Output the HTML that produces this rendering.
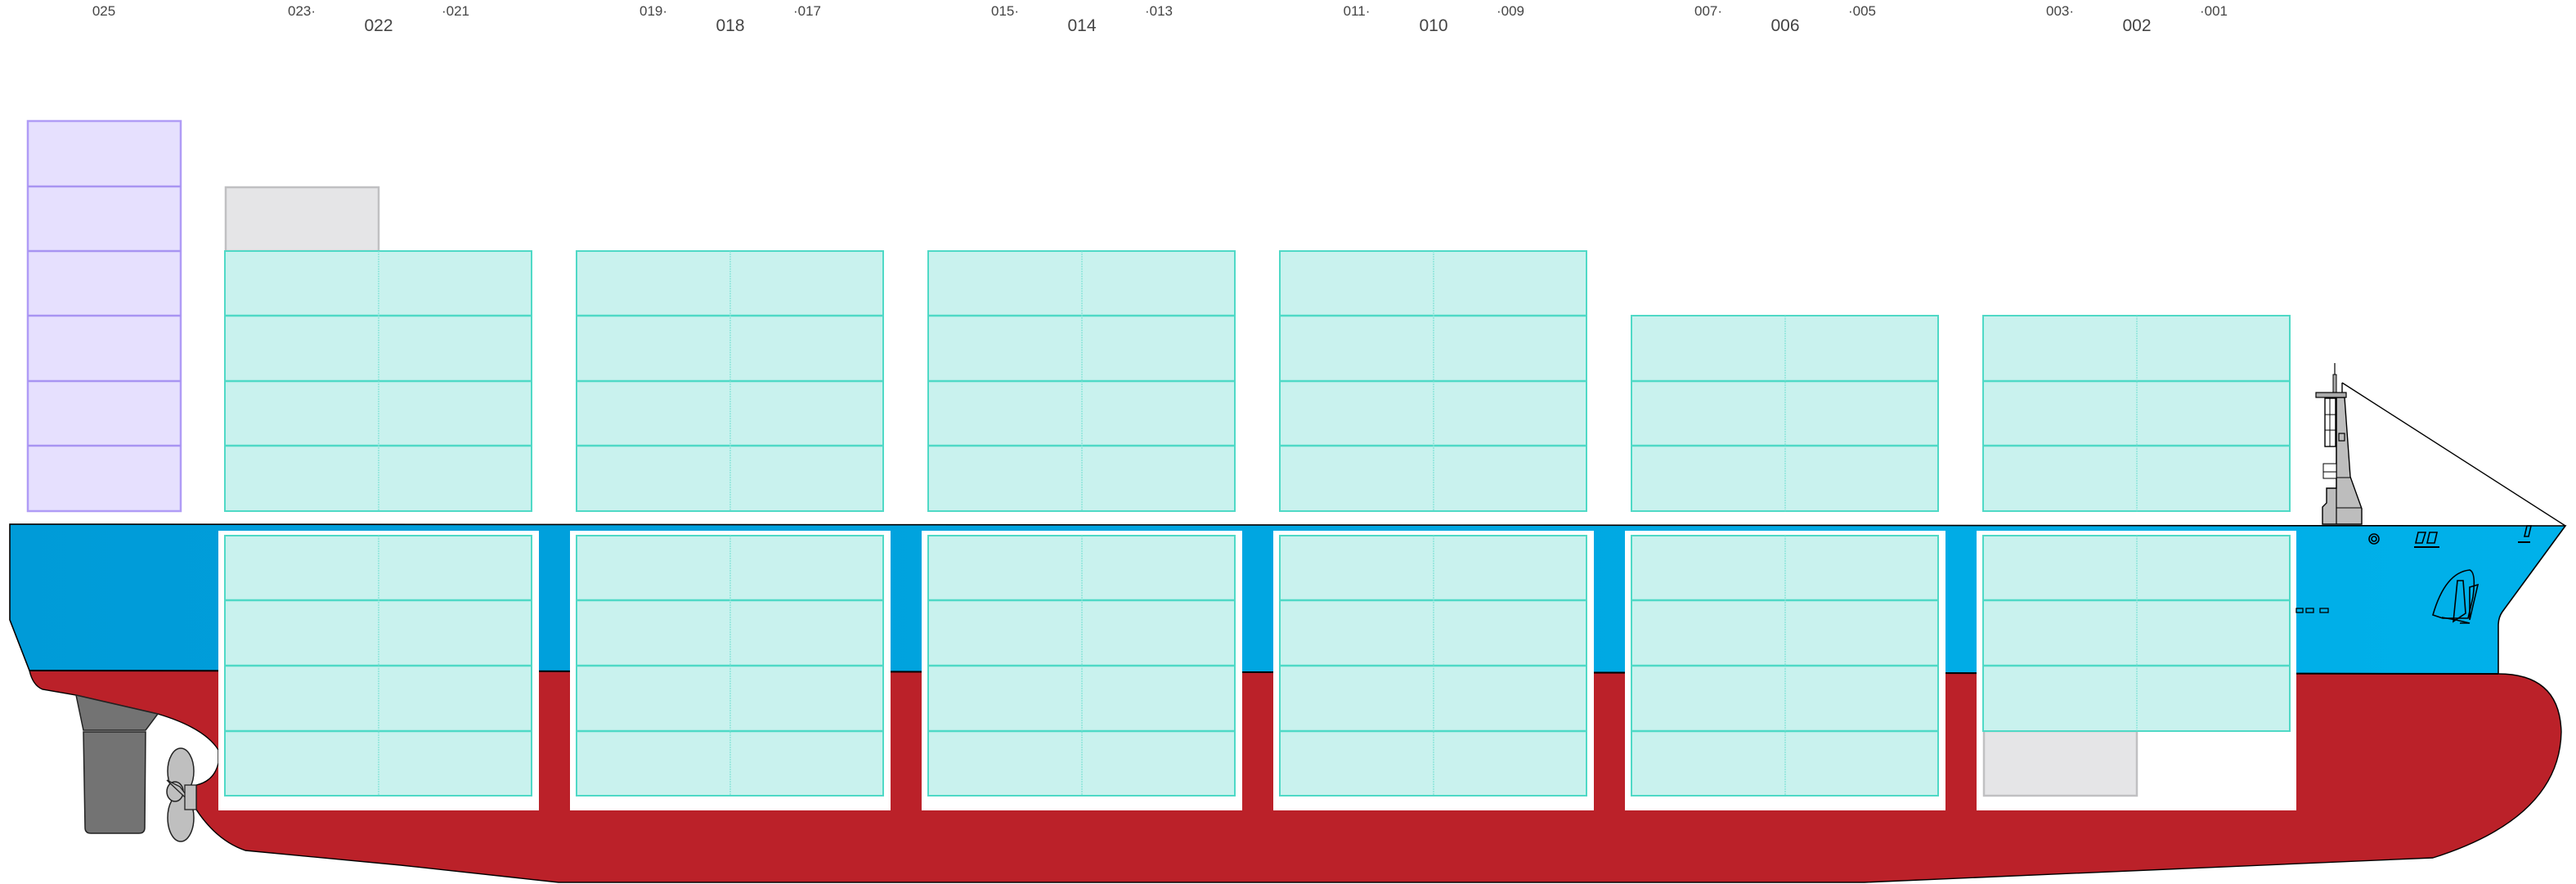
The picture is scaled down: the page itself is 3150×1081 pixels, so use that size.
<!DOCTYPE html>
<html><head><meta charset="utf-8"><style>
html,body{margin:0;padding:0;background:#fff;}
svg{display:block;}
text{font-family:"Liberation Sans",sans-serif;fill:#444;}
.c{fill:#c9f2ee;stroke:#4fd9c6;stroke-width:2;}
.l{stroke:#4fd9c6;stroke-width:2.5;}
.v{stroke:#7fe3d5;stroke-width:1.2;stroke-dasharray:2 1;}
.p{fill:#e6e0fe;stroke:#b09cf6;stroke-width:2.5;}
.pl{stroke:#a894f2;stroke-width:2.5;}
.g{fill:#e5e5e7;stroke:#c0c0c2;stroke-width:2.5;}
.k{fill:none;stroke:#000;stroke-width:1.6;}
</style></head><body>
<svg width="3150" height="1081" viewBox="0 0 3150 1081" xmlns="http://www.w3.org/2000/svg">
<defs>
<linearGradient id="bl" x1="0" x2="1" y1="0" y2="0">
<stop offset="0" stop-color="#009bd8"/><stop offset="1" stop-color="#00b1ea"/>
</linearGradient>
</defs>
<g font-size="17" text-anchor="middle">
<text x="127" y="19">025</text>
<text x="369" y="19">023·</text><text x="557" y="19">·021</text>
<text x="799" y="19">019·</text><text x="987" y="19">·017</text>
<text x="1229" y="19">015·</text><text x="1417" y="19">·013</text>
<text x="1659" y="19">011·</text><text x="1847" y="19">·009</text>
<text x="2089" y="19">007·</text><text x="2277" y="19">·005</text>
<text x="2519" y="19">003·</text><text x="2707" y="19">·001</text>
</g>
<g font-size="21" text-anchor="middle">
<text x="463" y="38">022</text><text x="893" y="38">018</text><text x="1323" y="38">014</text>
<text x="1753" y="38">010</text><text x="2183" y="38">006</text><text x="2613" y="38">002</text>
</g>

<path d="M12,641 L3137,643 L3060,748 Q3055,755 3055,765 L3055,824 L36,820 L12,758 Z" fill="url(#bl)" stroke="#000" stroke-width="1.6"/>
<path d="M36,820 L3055,824 Q3130,824 3132,895 Q3130,1000 2975,1049 L2280,1079 L683,1079 L490,1058 L300,1040 Q265,1028 240,990 L240,960 Q262,955 267,933 L267,917 Q250,890 193,873 L93,850 L52,843 Q40,838 36,820 Z" fill="#bb2129" stroke="#000" stroke-width="1.4"/>
<line x1="36" y1="820" x2="3055" y2="824" stroke="#000" stroke-width="2"/>

<path d="M93,850 L193,873 L178,893 L102,893 Z" fill="#737373" stroke="#222" stroke-width="1.5"/>
<path d="M102,895 L178,895 L177,1012 Q177,1019 170,1019 L111,1019 Q104,1019 104,1012 Z" fill="#737373" stroke="#222" stroke-width="1.5"/>
<ellipse cx="221" cy="943" rx="16" ry="28" fill="#bfbfbf" stroke="#222" stroke-width="1.5"/>
<ellipse cx="221" cy="1000" rx="16" ry="29" fill="#bfbfbf" stroke="#222" stroke-width="1.5"/>
<ellipse cx="214" cy="968" rx="10" ry="12" fill="#bfbfbf" stroke="#222" stroke-width="1.5"/>
<path d="M204,954 L220,962 L238,986 Z" fill="#bfbfbf" stroke="#222" stroke-width="1.3"/>
<rect x="226" y="960" width="14" height="30" fill="#bfbfbf" stroke="#222" stroke-width="1.3"/>

<g fill="#fff">
<rect x="267" y="649" width="392" height="342"/>
<rect x="697" y="649" width="392" height="342"/>
<rect x="1127" y="649" width="392" height="342"/>
<rect x="1557" y="649" width="392" height="342"/>
<rect x="1987" y="649" width="392" height="342"/>
<rect x="2417" y="649" width="391" height="342"/>
</g>

<rect class="p" x="34" y="148" width="187" height="477"/>
<g class="pl"><line x1="34" y1="228" x2="221" y2="228"/><line x1="34" y1="307" x2="221" y2="307"/><line x1="34" y1="386" x2="221" y2="386"/><line x1="34" y1="466" x2="221" y2="466"/><line x1="34" y1="545" x2="221" y2="545"/></g>

<rect class="g" x="276" y="229" width="187" height="78"/>
<rect class="g" x="2426" y="894" width="187" height="79"/>

<g>
<rect class="c" x="275" y="307" width="375" height="318"/>
<rect class="c" x="705" y="307" width="375" height="318"/>
<rect class="c" x="1135" y="307" width="375" height="318"/>
<rect class="c" x="1565" y="307" width="375" height="318"/>
<rect class="c" x="1995" y="386" width="375" height="239"/>
<rect class="c" x="2425" y="386" width="375" height="239"/>
</g>
<g class="l">
<line x1="275" y1="386" x2="650" y2="386"/><line x1="705" y1="386" x2="1080" y2="386"/><line x1="1135" y1="386" x2="1510" y2="386"/><line x1="1565" y1="386" x2="1940" y2="386"/>
<line x1="275" y1="466" x2="650" y2="466"/><line x1="705" y1="466" x2="1080" y2="466"/><line x1="1135" y1="466" x2="1510" y2="466"/><line x1="1565" y1="466" x2="1940" y2="466"/><line x1="1995" y1="466" x2="2370" y2="466"/><line x1="2425" y1="466" x2="2800" y2="466"/>
<line x1="275" y1="545" x2="650" y2="545"/><line x1="705" y1="545" x2="1080" y2="545"/><line x1="1135" y1="545" x2="1510" y2="545"/><line x1="1565" y1="545" x2="1940" y2="545"/><line x1="1995" y1="545" x2="2370" y2="545"/><line x1="2425" y1="545" x2="2800" y2="545"/>
</g>
<g class="v">
<line x1="463" y1="307" x2="463" y2="625"/><line x1="893" y1="307" x2="893" y2="625"/><line x1="1323" y1="307" x2="1323" y2="625"/><line x1="1753" y1="307" x2="1753" y2="625"/><line x1="2183" y1="386" x2="2183" y2="625"/><line x1="2613" y1="386" x2="2613" y2="625"/>
</g>

<g>
<rect class="c" x="275" y="655" width="375" height="318"/>
<rect class="c" x="705" y="655" width="375" height="318"/>
<rect class="c" x="1135" y="655" width="375" height="318"/>
<rect class="c" x="1565" y="655" width="375" height="318"/>
<rect class="c" x="1995" y="655" width="375" height="318"/>
<rect class="c" x="2425" y="655" width="375" height="239"/>
</g>
<g class="l">
<line x1="275" y1="734" x2="650" y2="734"/><line x1="705" y1="734" x2="1080" y2="734"/><line x1="1135" y1="734" x2="1510" y2="734"/><line x1="1565" y1="734" x2="1940" y2="734"/><line x1="1995" y1="734" x2="2370" y2="734"/><line x1="2425" y1="734" x2="2800" y2="734"/>
<line x1="275" y1="814" x2="650" y2="814"/><line x1="705" y1="814" x2="1080" y2="814"/><line x1="1135" y1="814" x2="1510" y2="814"/><line x1="1565" y1="814" x2="1940" y2="814"/><line x1="1995" y1="814" x2="2370" y2="814"/><line x1="2425" y1="814" x2="2800" y2="814"/>
<line x1="275" y1="894" x2="650" y2="894"/><line x1="705" y1="894" x2="1080" y2="894"/><line x1="1135" y1="894" x2="1510" y2="894"/><line x1="1565" y1="894" x2="1940" y2="894"/><line x1="1995" y1="894" x2="2370" y2="894"/>
</g>
<g class="v">
<line x1="463" y1="655" x2="463" y2="973"/><line x1="893" y1="655" x2="893" y2="973"/><line x1="1323" y1="655" x2="1323" y2="973"/><line x1="1753" y1="655" x2="1753" y2="973"/><line x1="2183" y1="655" x2="2183" y2="973"/><line x1="2613" y1="655" x2="2613" y2="894"/>
</g>

<line x1="2864" y1="468" x2="3137" y2="643" stroke="#000" stroke-width="1.4"/>
<line x1="2864" y1="468" x2="2864" y2="481" stroke="#000" stroke-width="1.4"/>
<line x1="2855" y1="444" x2="2855" y2="460" stroke="#000" stroke-width="1.2"/>
<rect x="2853" y="458" width="4" height="22" fill="#aaa" stroke="#000" stroke-width="1"/>
<path d="M2857,486 L2867,486 L2874,583 L2888,622 L2888,641 L2840,641 L2840,620 L2845,615 L2845,597 L2857,597 Z" fill="#bdbdbd" stroke="#000" stroke-width="1.4"/>
<line x1="2857" y1="486" x2="2857" y2="641" stroke="#000" stroke-width="1.2"/>
<line x1="2857" y1="621" x2="2888" y2="621" stroke="#000" stroke-width="1"/>
<line x1="2857" y1="584" x2="2874" y2="584" stroke="#000" stroke-width="1"/>
<path d="M2841,567 L2857,567 L2857,585 L2841,585 Z" fill="#fff" stroke="#000" stroke-width="1"/>
<line x1="2841" y1="577" x2="2857" y2="577" stroke="#000" stroke-width="1"/>
<rect x="2832" y="480" width="37" height="6" fill="#aaa" stroke="#000" stroke-width="1.2"/>
<rect x="2843" y="487" width="13" height="59" fill="#fff" stroke="#000" stroke-width="1.4"/>
<g stroke="#000" stroke-width="1"><line x1="2849" y1="487" x2="2849" y2="546"/><line x1="2843" y1="507" x2="2856" y2="507"/><line x1="2843" y1="526" x2="2856" y2="526"/></g>
<rect x="2860" y="530" width="7" height="9" fill="none" stroke="#000" stroke-width="1.2"/>

<circle cx="2903" cy="659" r="6" class="k"/><circle cx="2903" cy="659" r="3" class="k"/>
<path d="M2957,651 L2966,651 L2962,664 L2954,664 Z M2971,651 L2980,651 L2977,664 L2968,664 Z" class="k"/>
<line x1="2952" y1="669" x2="2983" y2="669" stroke="#000" stroke-width="2"/>
<path d="M3090,643 L3095,643 L3092,656 L3087,656 Z" class="k"/>
<line x1="3079" y1="663" x2="3094" y2="663" stroke="#000" stroke-width="2"/>
<path d="M2975,752 Q2990,700 3020,697 Q3028,700 3024,730 L3018,756 L2987,756 Z" class="k"/>
<path d="M3005,710 L3012,710 L3015,750 L3000,760 Z M3020,718 L3030,715 L3020,758 Z" class="k"/>
<path d="M2986,755 L3003,758 L3020,762 L3008,762" class="k"/>
<g fill="none" stroke="#000" stroke-width="1.3">
<rect x="2808" y="744" width="8" height="5"/><rect x="2820" y="744" width="9" height="5"/><rect x="2837" y="744" width="10" height="5"/>
</g>
</svg>
</body></html>
